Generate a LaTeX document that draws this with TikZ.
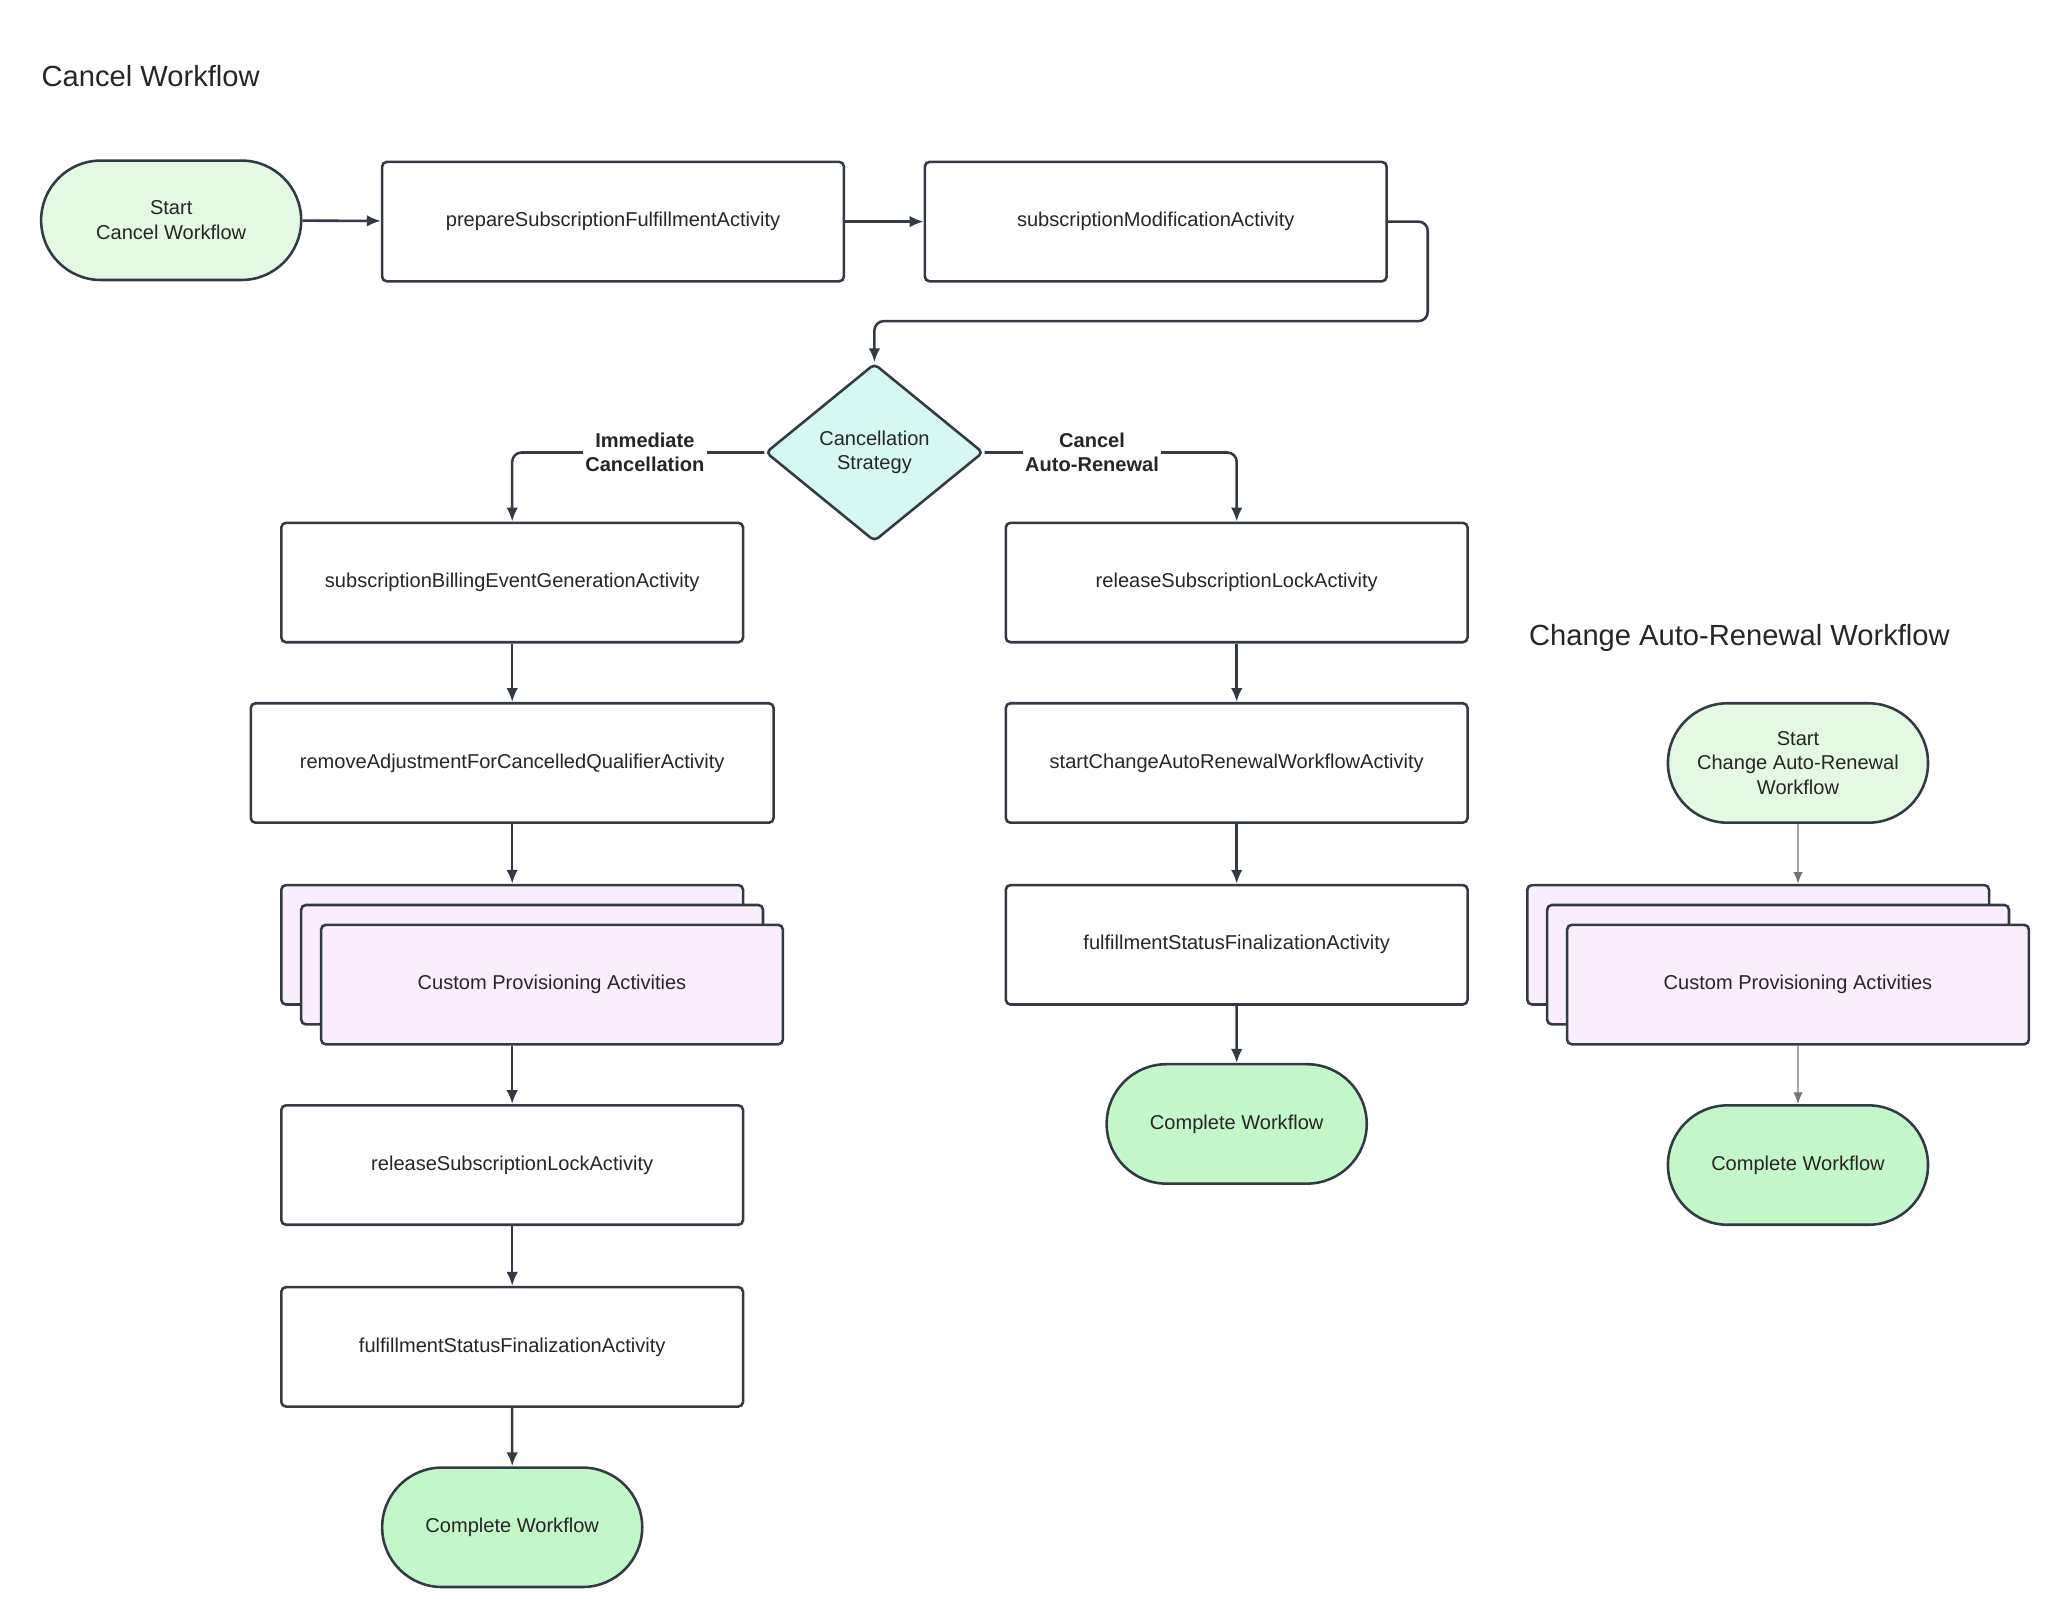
\documentclass[tikz,border=0pt]{standalone}
\usepackage{fontspec}
\setmainfont{Liberation Sans}
\usetikzlibrary{shapes.geometric,arrows.meta}
\definecolor{ln}{HTML}{333A44}
\definecolor{startc}{HTML}{E3F9E3}
\definecolor{endc}{HTML}{C3F7C9}
\definecolor{diac}{HTML}{D6F8F3}
\definecolor{stc}{HTML}{FBEEFC}
\begin{document}
\begin{tikzpicture}[x=0.02cm,y=-0.02cm,
  every node/.style={font=\fontsize{8.6pt}{10.5pt}\selectfont, text=black!85, align=center},
  box/.style={draw=ln, line width=1.1pt, fill=white, rounded corners=2pt, minimum width=348*0.02cm, minimum height=90*0.02cm, inner sep=0},
  stk/.style={box, fill=stc},
  pill/.style={draw=ln, line width=1.1pt, rounded rectangle, minimum width=196*0.02cm, minimum height=90*0.02cm, inner sep=0},
  st/.style={pill, fill=startc},
  en/.style={pill, fill=endc},
  arr/.style={draw=ln, line width=1.1pt, -{Latex[length=6pt,width=5pt]}, rounded corners=4pt},
  thin/.style={draw=ln!70, line width=0.5pt, -{Latex[length=5pt,width=4pt]}},
  lab/.style={font=\bfseries\fontsize{8.6pt}{10.5pt}\selectfont, fill=white, inner sep=1pt},
  ttl/.style={font=\fontsize{12.5pt}{15pt}\selectfont, anchor=west, inner sep=0}]
\useasboundingbox (0,0) rectangle (1560,1221);
\usetikzlibrary{shapes.misc}
\node[ttl] (t1) at (31,57) {Cancel Workflow};
\node[st] (s) at (129,166) {Start\\Cancel Workflow};
\node[box] (p) at (462,167) {prepareSubscriptionFulfillmentActivity};
\node[box] (m) at (871,167) {subscriptionModificationActivity};
\node[draw=ln, line width=1.1pt, fill=diac, diamond, aspect=1.22, minimum width=164*0.02cm, minimum height=134*0.02cm, inner sep=0, rounded corners=2pt] (d) at (659,341) {Cancellation\\Strategy};
\coordinate (c1) at (1076,242);
\draw[arr] (s) -- (p);
\draw[arr] (p) -- (m);
\draw[arr] (m.east) -| (c1) -| (d.north);
\node[box] (a1) at (386,439) {subscriptionBillingEventGenerationActivity};
\node[box, minimum width=394*0.02cm] (a2) at (386,575) {removeAdjustmentForCancelledQualifierActivity};
\node[stk] (a3b) at (386,712) {};
\node[stk] (a3m) at (401,727) {};
\node[stk] (a3) at (416,742) {Custom Provisioning Activities};
\node[box] (a4) at (386,878) {releaseSubscriptionLockActivity};
\node[box] (a5) at (386,1015) {fulfillmentStatusFinalizationActivity};
\node[en] (a6) at (386,1151) {Complete Workflow};
\draw[arr] (d.west) -| (a1.north);
\node[lab] (l1) at (486,341) {Immediate\\Cancellation};
\draw[arr] (a1) -- (a2);
\draw[arr] (a2) -- (a3b);
\draw[arr] (a3.south -| a4.north) -- (a4);
\draw[arr] (a4) -- (a5);
\draw[arr] (a5) -- (a6);
\node[box] (b1) at (932,439) {releaseSubscriptionLockActivity};
\node[box] (b2) at (932,575) {startChangeAutoRenewalWorkflowActivity};
\node[box] (b3) at (932,712) {fulfillmentStatusFinalizationActivity};
\node[en] (b4) at (932,847) {Complete Workflow};
\draw[arr] (d.east) -| (b1.north);
\node[lab] (l2) at (823,341) {Cancel\\Auto-Renewal};
\draw[arr] (b1) -- (b2);
\draw[arr] (b2) -- (b3);
\draw[arr] (b3) -- (b4);
\node[ttl] (t2) at (1152,481) {Change Auto-Renewal Workflow};
\node[st] (c0) at (1355,575) {Start\\Change Auto-Renewal\\Workflow};
\node[stk] (csb) at (1325,712) {};
\node[stk] (csm) at (1340,727) {};
\node[stk] (cs) at (1355,742) {Custom Provisioning Activities};
\node[en] (ce) at (1355,878) {Complete Workflow};
\draw[thin] (c0) -- (c0.south |- csb.north);
\draw[thin] (cs) -- (ce);
\end{tikzpicture}
\end{document}
